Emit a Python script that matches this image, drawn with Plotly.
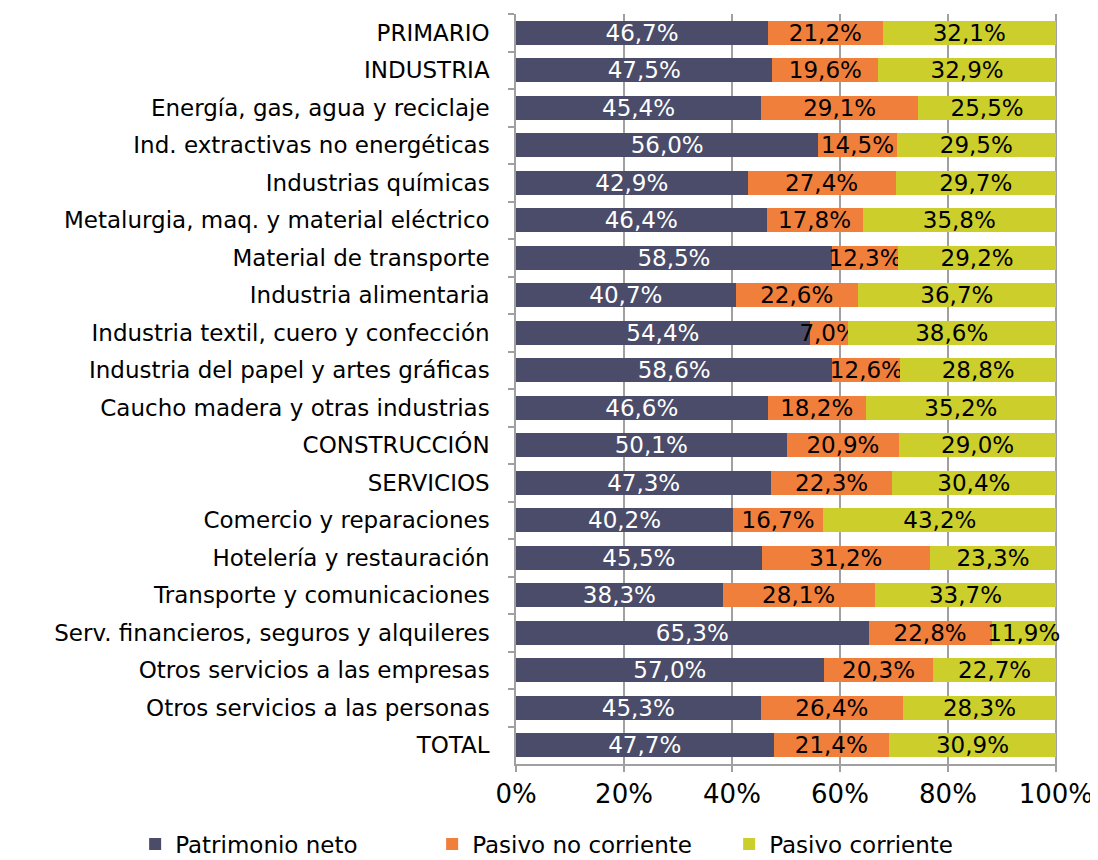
import plotly.graph_objects as go

categories = [
    "PRIMARIO", "INDUSTRIA", "Energía, gas, agua y reciclaje",
    "Ind. extractivas no energéticas", "Industrias químicas",
    "Metalurgia, maq. y material eléctrico", "Material de transporte",
    "Industria alimentaria", "Industria textil, cuero y confección",
    "Industria del papel y artes gráficas", "Caucho madera y otras industrias",
    "CONSTRUCCIÓN", "SERVICIOS", "Comercio y reparaciones",
    "Hotelería y restauración", "Transporte y comunicaciones",
    "Serv. financieros, seguros y alquileres", "Otros servicios a las empresas",
    "Otros servicios a las personas", "TOTAL",
]
patrimonio = [46.7, 47.5, 45.4, 56.0, 42.9, 46.4, 58.5, 40.7, 54.4, 58.6, 46.6,
              50.1, 47.3, 40.2, 45.5, 38.3, 65.3, 57.0, 45.3, 47.7]
pasivo_nc = [21.2, 19.6, 29.1, 14.5, 27.4, 17.8, 12.3, 22.6, 7.0, 12.6, 18.2,
             20.9, 22.3, 16.7, 31.2, 28.1, 22.8, 20.3, 26.4, 21.4]
pasivo_c = [32.1, 32.9, 25.5, 29.5, 29.7, 35.8, 29.2, 36.7, 38.6, 28.8, 35.2,
            29.0, 30.4, 43.2, 23.3, 33.7, 11.9, 22.7, 28.3, 30.9]
series_names = ["Patrimonio neto", "Pasivo no corriente", "Pasivo corriente"]
tick_vals = [0, 20, 40, 60, 80, 100]
tick_text = ["0%", "20%", "40%", "60%", "80%", "100%"]

colors = ["#4A4C6A", "#F07F3C", "#CCCF2B"]
text_colors = ["white", "black", "black"]
FONT = "DejaVu Sans"

def fmt(v):
    return f"{v:.1f}".replace(".", ",") + "%"

fig = go.Figure()
for name, vals, col, tc in zip(series_names, [patrimonio, pasivo_nc, pasivo_c], colors, text_colors):
    fig.add_trace(go.Bar(
        y=categories, x=vals, name=name, orientation="h",
        marker=dict(color=col, line=dict(width=0)),
        text=[fmt(v) for v in vals], textposition="inside",
        insidetextanchor="middle", constraintext="none",
        textfont=dict(color=tc, size=23, family=FONT),
        cliponaxis=False,
    ))

fig.update_layout(
    barmode="stack", bargap=0.35,
    width=1090, height=852,
    margin=dict(l=508, r=41, t=6, b=96, autoexpand=False),
    plot_bgcolor="white", paper_bgcolor="white",
    font=dict(family=FONT, size=23, color="black"),
    uniformtext=dict(minsize=23, mode="show"),
    showlegend=True,
    legend=dict(orientation="h", x=-0.704, xanchor="left", y=-0.078, yanchor="top",
                font=dict(size=23), traceorder="normal", itemwidth=30,
                entrywidth=252, entrywidthmode="pixels"),
)
fig.update_xaxes(
    range=[0, 100.2], tickvals=tick_vals, ticktext=tick_text,
    showgrid=True, gridcolor="#A0A0A0", gridwidth=1.5,
    showline=True, linecolor="#A0A0A0", linewidth=1.5,
    ticks="outside", ticklen=6, tickcolor="#A0A0A0", tickwidth=1.5,
    tickfont=dict(size=26), zeroline=False, ticklabelstandoff=0,
)
fig.update_yaxes(
    autorange="reversed", showline=True, linecolor="#A0A0A0", linewidth=1.5,
    ticks="outside", ticklen=6, tickcolor="#A0A0A0", tickwidth=1.5,
    tickson="boundaries", tickfont=dict(size=23), ticklabelstandoff=20,
)

fig.write_html("out.html")
